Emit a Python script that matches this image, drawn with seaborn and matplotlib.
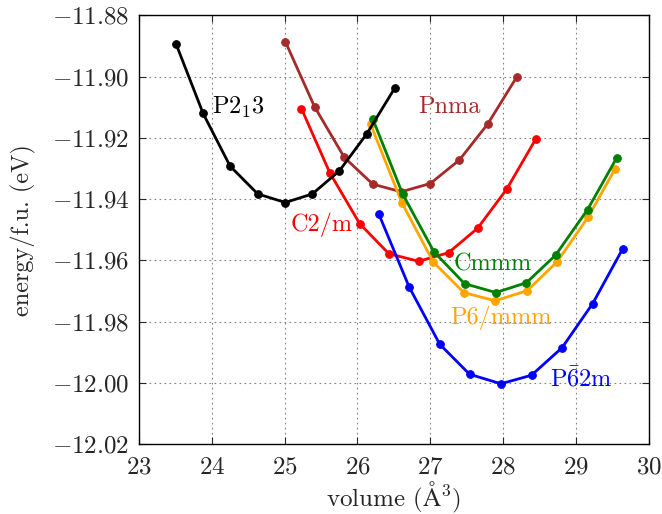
import numpy as np
import pandas as pd
import matplotlib
matplotlib.use("Agg")
import matplotlib.pyplot as plt
import seaborn as sns

# Data (volume in A^3, energy per f.u. in eV)
vol_p213 = [23.51, 23.88, 24.25, 24.63, 25.01, 25.38, 25.75, 26.13, 26.51]
e_p213 = [-11.8894, -11.9120, -11.9292, -11.9383, -11.9411, -11.9383, -11.9308, -11.9186, -11.9038]

vol_pnma = [25.01, 25.41, 25.82, 26.21, 26.60, 27.00, 27.40, 27.79, 28.19]
e_pnma = [-11.8886, -11.9098, -11.9264, -11.9351, -11.9376, -11.9349, -11.9272, -11.9154, -11.9000]

vol_c2m = [25.23, 25.62, 26.03, 26.43, 26.84, 27.25, 27.65, 28.05, 28.45]
e_c2m = [-11.9104, -11.9314, -11.9480, -11.9578, -11.9603, -11.9575, -11.9495, -11.9367, -11.9203]

vol_cmmm = [26.21, 26.62, 27.05, 27.47, 27.90, 28.32, 28.72, 29.16, 29.56]
e_cmmm = [-11.9138, -11.9383, -11.9572, -11.9676, -11.9705, -11.9673, -11.9583, -11.9434, -11.9265]

vol_p6mmm = [26.18, 26.61, 27.04, 27.46, 27.89, 28.33, 28.74, 29.17, 29.54]
e_p6mmm = [-11.9155, -11.9412, -11.9605, -11.9705, -11.9732, -11.9699, -11.9605, -11.9458, -11.9300]

vol_p62m = [26.29, 26.71, 27.13, 27.54, 27.97, 28.39, 28.81, 29.23, 29.64]
e_p62m = [-11.9447, -11.9687, -11.9874, -11.9972, -12.0003, -11.9975, -11.9885, -11.9741, -11.9563]

# (volumes, energies, colour, label, label x, label y)
series = [
    (vol_c2m, e_c2m, "red", r"C2/m", 25.08, -11.9485),
    (vol_pnma, e_pnma, "#A52A2A", r"Pnma", 26.84, -11.9099),
    (vol_p6mmm, e_p6mmm, "#FFA500", r"P6/mmm", 27.28, -11.9786),
    (vol_cmmm, e_cmmm, "green", r"Cmmm", 27.32, -11.9613),
    (vol_p213, e_p213, "black", r"P2$_1$3", 24.0, -11.9099),
    (vol_p62m, e_p62m, "blue", r"P$\bar{6}$2m", 28.65, -11.9989),
]

sns.set_style("ticks")
plt.rcParams["font.family"] = ["cmr10", "DejaVu Serif"]
plt.rcParams["mathtext.fontset"] = "cm"
plt.rcParams["axes.formatter.use_mathtext"] = True
plt.rcParams["axes.unicode_minus"] = True

fig = plt.figure(figsize=(6.62, 5.14), dpi=100)
ax = fig.add_axes([0.210, 0.136, 0.770, 0.834])

for vols, energies, color, label, lx, ly in series:
    df = pd.DataFrame({"volume": vols, "energy": energies})
    sns.lineplot(data=df, x="volume", y="energy", ax=ax, color=color,
                 linewidth=2.0, marker="o", markersize=5.5,
                 markeredgecolor=color, sort=False)
    ax.text(lx, ly, label, color=color, fontsize=17.5, va="center", ha="left")

ax.set_xlim(23, 30)
ax.set_ylim(-12.02, -11.88)
ax.set_xticks(np.arange(23, 31, 1))
ax.set_yticks(np.arange(-12.02, -11.879, 0.02))
ax.yaxis.set_major_formatter(matplotlib.ticker.FuncFormatter(lambda v, p: r"$%.2f$" % v))
ax.xaxis.set_major_formatter(matplotlib.ticker.FuncFormatter(lambda v, p: r"$%d$" % v))
ax.grid(True, linestyle=(0, (1.5, 3)), color="gray", linewidth=0.8)
ax.tick_params(direction="in", top=True, right=True, labelsize=18, length=5,
               width=0.8)
ax.tick_params(axis="x", pad=9)
ax.tick_params(axis="y", pad=7)
for s in ax.spines.values():
    s.set_linewidth(1.0)
    s.set_color("black")

ax.set_xlabel(r"volume ($\mathrm{\AA}^3$)", fontsize=18, labelpad=1)
ax.set_ylabel(r"energy/f.u. (eV)", fontsize=17.5, labelpad=11)

fig.savefig("out.png", dpi=100)
